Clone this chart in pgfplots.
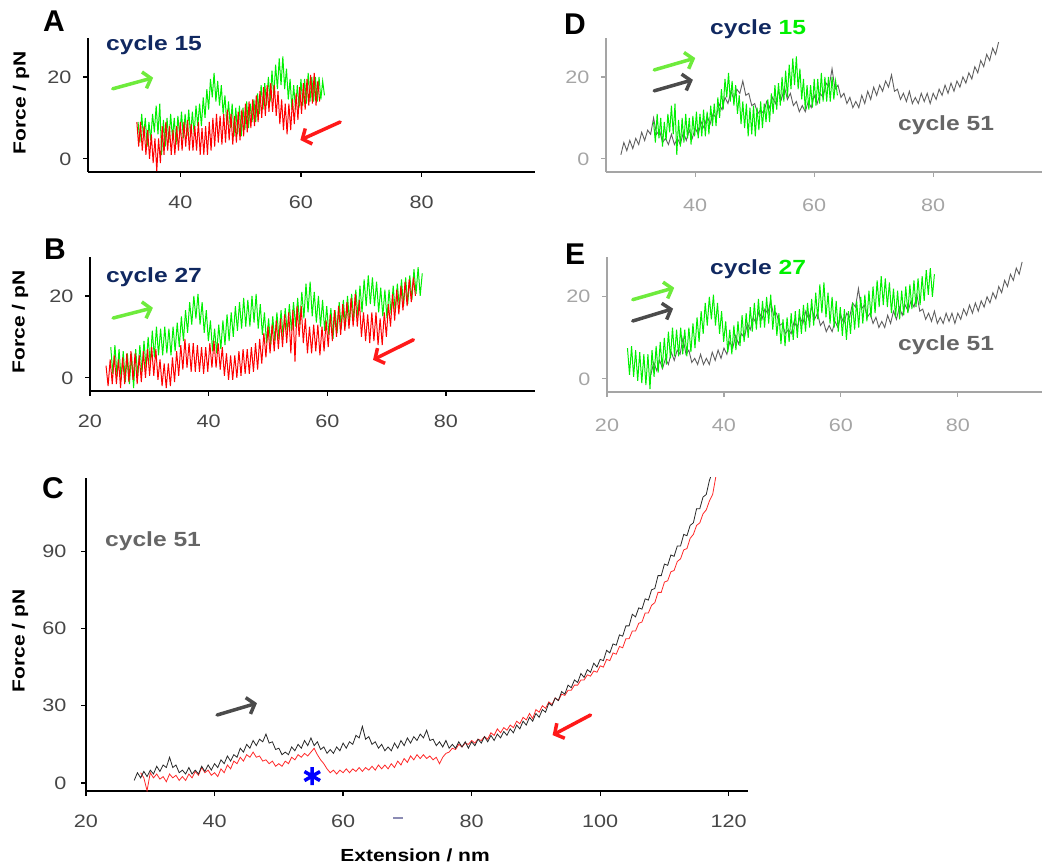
\documentclass[border=0pt]{standalone}
\usepackage{fontspec}
\setmainfont{Liberation Sans}
\newfontfamily\wide[FakeStretch=1.2]{Liberation Sans}
\usepackage{pgfplots}
\pgfplotsset{compat=1.18}
\usepackage{pgfplotstable}
\usetikzlibrary{arrows.meta}

\definecolor{tgreen}{RGB}{0,240,0}
\definecolor{tred}{RGB}{255,0,0}
\definecolor{tgray}{RGB}{95,95,95}
\definecolor{cblack}{RGB}{40,40,40}
\definecolor{cred}{RGB}{255,40,40}
\definecolor{navy}{RGB}{16,40,96}
\definecolor{txtgray}{RGB}{102,102,102}
\definecolor{tickA}{RGB}{70,70,70}
\definecolor{tickD}{RGB}{165,165,165}
\definecolor{agreen}{RGB}{110,235,60}
\definecolor{ared}{RGB}{255,25,25}
\definecolor{agray}{RGB}{75,75,75}
\definecolor{dashc}{RGB}{140,140,180}

% cycle 15 forward
\pgfplotstableread[row sep=\\]{x y\\
33.0 9\\ 33.3 4\\ 33.6 11\\ 33.9 5\\ 34.2 10\\ 34.5 3\\ 34.8 9\\ 35.1 4.5\\ 35.4 11\\ 35.7 6.5\\
36.0 13\\ 36.3 6\\ 36.6 13.5\\ 36.9 1\\ 37.2 9.5\\ 37.5 3\\ 37.8 10\\ 38.1 4\\ 38.4 11\\ 38.7 5\\
39.0 10\\ 39.3 3.5\\ 39.6 10.5\\ 39.9 5.5\\ 40.2 11.5\\ 40.5 5\\ 40.8 11\\ 41.1 5.5\\ 41.4 12\\ 41.7 5.5\\
42.0 11.5\\ 42.3 6\\ 42.6 13\\ 42.9 8\\ 43.2 13.5\\ 43.5 8\\ 43.8 15\\ 44.1 10\\ 44.4 17\\ 44.7 12\\
45.0 19.5\\ 45.3 15\\ 45.6 21\\ 45.9 14\\ 46.2 19\\ 46.5 13\\ 46.8 18\\ 47.1 11\\ 47.4 15.5\\ 47.7 8.5\\
48.0 14\\ 48.3 7.5\\ 48.6 13.5\\ 48.9 5.5\\ 49.2 12.5\\ 49.5 6\\ 49.8 13\\ 50.1 5.5\\ 50.4 12.5\\ 50.7 7\\
51.0 14\\ 51.3 7.5\\ 51.6 13.5\\ 51.9 9\\ 52.2 14.5\\ 52.5 9\\ 52.8 16\\ 53.1 11\\ 53.4 18\\ 53.7 12\\
54.0 18.5\\ 54.3 13\\ 54.6 20\\ 54.9 14\\ 55.2 21.5\\ 55.5 15\\ 55.8 23\\ 56.1 17\\ 56.4 24.5\\ 56.7 18\\
57.0 25\\ 57.3 17\\ 57.6 22\\ 57.9 14.5\\ 58.2 19.5\\ 58.5 12\\ 58.8 18\\ 59.1 12\\ 59.4 18\\ 59.7 12.5\\
60.0 19.5\\ 60.3 13\\ 60.6 19.5\\ 60.9 13.5\\ 61.2 21\\ 61.5 14\\ 61.8 20\\ 62.1 14\\ 62.4 20\\ 62.7 14\\
63.0 20\\ 63.3 14.5\\ 63.6 19\\ 63.9 15.5\\
}\cAf
% cycle 15 reverse
\pgfplotstableread[row sep=\\]{x y\\
32.8 9\\ 33.1 3\\ 33.4 9\\ 33.7 2\\ 34.0 8\\ 34.3 1\\ 34.6 7\\ 34.9 0\\ 35.2 6\\ 35.5 -1\\
35.8 5\\ 36.1 -3\\ 36.4 5\\ 36.7 -1\\ 37.0 8\\ 37.3 1\\ 37.6 9\\ 37.9 2\\ 38.2 8\\ 38.5 1\\
38.8 7\\ 39.1 1\\ 39.4 8\\ 39.7 2\\ 40.0 9\\ 40.3 2\\ 40.6 9\\ 40.9 3\\ 41.2 9.5\\ 41.5 2\\
41.8 8.5\\ 42.1 2\\ 42.4 8\\ 42.7 2\\ 43.0 9\\ 43.3 1\\ 43.6 7.5\\ 43.9 1\\ 44.2 8\\ 44.5 1\\
44.8 9\\ 45.1 2\\ 45.4 10\\ 45.7 3\\ 46.0 11\\ 46.3 4\\ 46.6 10.5\\ 46.9 3.5\\ 47.2 11\\ 47.5 4\\
47.8 12\\ 48.1 4.5\\ 48.4 11\\ 48.7 3.5\\ 49.0 10.5\\ 49.3 4\\ 49.6 11.5\\ 49.9 4.5\\ 50.2 12\\ 50.5 5.5\\
50.8 13.5\\ 51.1 6.5\\ 51.4 14\\ 51.7 7.5\\ 52.0 14.5\\ 52.3 8\\ 52.6 15.5\\ 52.9 9\\ 53.2 16.5\\ 53.5 10\\
53.8 17.5\\ 54.1 10.5\\ 54.4 18\\ 54.7 11.5\\ 55.0 18.5\\ 55.3 11.5\\ 55.6 18\\ 55.9 10.5\\ 56.2 16.5\\ 56.5 8.5\\
56.8 14.5\\ 57.1 7\\ 57.4 13.5\\ 57.7 6\\ 58.0 13.5\\ 58.3 7\\ 58.6 14.5\\ 58.9 8.5\\ 59.2 16\\ 59.5 9.5\\
59.8 17.5\\ 60.1 11\\ 60.4 18.5\\ 60.7 12\\ 61.0 19.5\\ 61.3 13\\ 61.6 20.5\\ 61.9 13.5\\ 62.2 21\\ 62.5 13\\
62.8 19\\ 63.1 14\\
}\cAr
% cycle 27 forward
\pgfplotstableread[row sep=\\]{x y\\
23.50 7.5\\ 23.85 1\\ 24.20 8\\ 24.55 0.5\\ 24.90 7\\ 25.25 -0.5\\ 25.60 6.5\\ 25.95 -1\\ 26.30 6\\ 26.65 -1.5\\
27.00 6\\ 27.35 -2.5\\ 27.70 7\\ 28.05 0.5\\ 28.40 8\\ 28.75 1.5\\ 29.10 9\\ 29.45 2.5\\ 29.80 10\\ 30.15 3.5\\
30.50 11.5\\ 30.85 5\\ 31.20 12.5\\ 31.55 5.5\\ 31.90 12\\ 32.25 5.5\\ 32.60 12.5\\ 32.95 6\\ 33.30 12\\ 33.65 5.5\\
34.00 12.5\\ 34.35 6.5\\ 34.70 13.5\\ 35.05 7.5\\ 35.40 15\\ 35.75 9\\ 36.10 16.5\\ 36.45 11\\ 36.80 18.5\\ 37.15 13\\
37.50 20\\ 37.85 14.5\\ 38.20 20.5\\ 38.55 13\\ 38.90 18.5\\ 39.25 11\\ 39.60 16.5\\ 39.95 9\\ 40.30 14\\ 40.65 6.5\\
41.00 12\\ 41.35 6\\ 41.70 13\\ 42.05 7\\ 42.40 14\\ 42.75 8\\ 43.10 15.5\\ 43.45 9\\ 43.80 16\\ 44.15 10\\
44.50 17.5\\ 44.85 11.5\\ 45.20 18.5\\ 45.55 12\\ 45.90 19.5\\ 46.25 12.5\\ 46.60 19\\ 46.95 12.5\\ 47.30 20\\ 47.65 13.5\\
48.00 20.5\\ 48.35 12\\ 48.70 18\\ 49.05 10.5\\ 49.40 16\\ 49.75 8.5\\ 50.10 14.5\\ 50.45 8\\ 50.80 15\\ 51.15 9\\
51.50 16\\ 51.85 9.5\\ 52.20 16.5\\ 52.55 10\\ 52.90 17\\ 53.25 11\\ 53.60 18\\ 53.95 11.5\\ 54.30 18.5\\ 54.65 12.5\\
55.00 19.5\\ 55.35 13\\ 55.70 21\\ 56.05 14.5\\ 56.40 23\\ 56.75 16\\ 57.10 23.5\\ 57.45 15\\ 57.80 21\\ 58.15 13.5\\
58.50 20\\ 58.85 12.5\\ 59.20 19\\ 59.55 11.5\\ 59.90 17.5\\ 60.25 10.5\\ 60.60 17\\ 60.95 9.5\\ 61.30 16.5\\ 61.65 11\\
62.00 18.5\\ 62.35 12\\ 62.70 19\\ 63.05 12.5\\ 63.40 20\\ 63.75 13.5\\ 64.10 20.5\\ 64.45 14\\ 64.80 21.5\\ 65.15 15\\
65.50 22.5\\ 65.85 16\\ 66.20 24\\ 66.55 17.5\\ 66.90 25\\ 67.25 18\\ 67.60 24.5\\ 67.95 17.5\\ 68.30 23.5\\ 68.65 16\\
69.00 22\\ 69.35 15\\ 69.70 21.5\\ 70.05 14.5\\ 70.40 21.5\\ 70.75 15.5\\ 71.10 22.5\\ 71.45 16\\ 71.80 23\\ 72.15 17\\
72.50 24\\ 72.85 17.5\\ 73.20 24.5\\ 73.55 18\\ 73.90 25\\ 74.25 19\\ 74.60 26.5\\ 74.95 20.5\\ 75.30 27\\ 75.65 20\\
76.00 25.5\\
}\cBf
% cycle 27 reverse
\pgfplotstableread[row sep=\\]{x y\\
22.70 3\\ 23.05 -2\\ 23.40 4.5\\ 23.75 -1.5\\ 24.10 5.5\\ 24.45 -1.5\\ 24.80 4.5\\ 25.15 -2.5\\ 25.50 5\\ 25.85 -1.5\\
26.20 6\\ 26.55 -1\\ 26.90 6.5\\ 27.25 -0.5\\ 27.60 6\\ 27.95 -1.5\\ 28.30 5.5\\ 28.65 -1\\ 29.00 6.5\\ 29.35 0\\
29.70 7\\ 30.05 0.5\\ 30.40 7.5\\ 30.75 0.5\\ 31.10 7\\ 31.45 -0.5\\ 31.80 4.5\\ 32.15 -2\\ 32.50 3.5\\ 32.85 -2.5\\
33.20 3.5\\ 33.55 -2\\ 33.90 5\\ 34.25 -1\\ 34.60 6.5\\ 34.95 0.5\\ 35.30 8\\ 35.65 2\\ 36.00 9.5\\ 36.35 2.5\\
36.70 8.5\\ 37.05 1.5\\ 37.40 8.5\\ 37.75 1.5\\ 38.10 8\\ 38.45 1.5\\ 38.80 7.5\\ 39.15 1\\ 39.50 7.5\\ 39.85 1.5\\
40.20 8.5\\ 40.55 2.5\\ 40.90 9\\ 41.25 2.5\\ 41.60 8.5\\ 41.95 2\\ 42.30 7.5\\ 42.65 0.5\\ 43.00 6\\ 43.35 -0.5\\
43.70 5.5\\ 44.05 -0.5\\ 44.40 5.5\\ 44.75 0\\ 45.10 6.5\\ 45.45 0.5\\ 45.80 7\\ 46.15 1\\ 46.50 7\\ 46.85 1\\
47.20 7.5\\ 47.55 1.5\\ 47.90 8.5\\ 48.25 2\\ 48.60 9.5\\ 48.95 3.5\\ 49.30 11\\ 49.65 5\\ 50.00 12.5\\ 50.35 6\\
50.70 13\\ 51.05 6.5\\ 51.40 14\\ 51.75 7\\ 52.10 14.5\\ 52.45 7.5\\ 52.80 15.5\\ 53.15 8.5\\ 53.50 16\\ 53.85 6\\
54.20 16.5\\ 54.55 4\\ 54.90 17.5\\ 55.25 10\\ 55.60 17.5\\ 55.95 8.5\\ 56.30 14.5\\ 56.65 6\\ 57.00 12.5\\ 57.35 6\\
57.70 13\\ 58.05 6.5\\ 58.40 13\\ 58.75 5.5\\ 59.10 12.5\\ 59.45 6.5\\ 59.80 14\\ 60.15 7.5\\ 60.50 15.5\\ 60.85 9\\
61.20 16.5\\ 61.55 10\\ 61.90 17.5\\ 62.25 10.5\\ 62.60 18\\ 62.95 11.5\\ 63.30 18.5\\ 63.65 12\\ 64.00 19.5\\ 64.35 12.5\\
64.70 20.5\\ 65.05 12.5\\ 65.40 19\\ 65.75 10\\ 66.10 16\\ 66.45 9\\ 66.80 15.5\\ 67.15 8.5\\ 67.50 16\\ 67.85 9\\
68.20 16\\ 68.55 8\\ 68.90 14.5\\ 69.25 8\\ 69.60 16\\ 69.95 10\\ 70.30 18\\ 70.65 12.5\\ 71.00 20.5\\ 71.35 14\\
71.70 21.5\\ 72.05 15.5\\ 72.40 22.5\\ 72.75 16.5\\ 73.10 23.5\\ 73.45 17.5\\ 73.80 24\\ 74.15 18.5\\ 74.50 24.5\\ 74.85 20\\
}\cBr
% cycle 51 forward
\pgfplotstableread[row sep=\\]{x y\\
27.5 1\\ 28.0 4\\ 28.5 2\\ 29.0 4.5\\ 29.5 2.5\\ 30.0 5\\ 30.5 3.5\\ 31.0 6.5\\ 31.5 4.5\\ 32.0 7\\
32.5 6\\ 33.0 10\\ 33.5 6\\ 34.0 7\\ 34.5 4\\ 35.0 5\\ 35.5 3.5\\ 36.0 6\\ 36.5 3.5\\ 37.0 5\\
37.5 3.5\\ 38.0 6.5\\ 38.5 4.5\\ 39.0 7\\ 39.5 5\\ 40.0 7.5\\ 40.5 6\\ 41.0 9\\ 41.5 7.5\\ 42.0 10.5\\
42.5 8.5\\ 43.0 11\\ 43.5 10\\ 44.0 13.5\\ 44.5 12\\ 45.0 15\\ 45.5 13.5\\ 46.0 16.5\\ 46.5 14.5\\ 47.0 17\\
47.5 16\\ 48.0 19\\ 48.5 15.5\\ 49.0 16\\ 49.5 13\\ 50.0 13.5\\ 50.5 11\\ 51.0 12\\ 51.5 11\\ 52.0 14\\
52.5 12.5\\ 53.0 15\\ 53.5 13.5\\ 54.0 16.5\\ 54.5 14.5\\ 55.0 17.5\\ 55.5 14.5\\ 56.0 16\\ 56.5 13\\ 57.0 14\\
57.5 11.5\\ 58.0 13\\ 58.5 11.5\\ 59.0 14\\ 59.5 12.5\\ 60.0 15.5\\ 60.5 13.5\\ 61.0 16\\ 61.5 15\\ 62.0 18.5\\
62.5 17.5\\ 63.0 22\\ 63.5 17\\ 64.0 18\\ 64.5 15\\ 65.0 16\\ 65.5 13.5\\ 66.0 15\\ 66.5 12.5\\ 67.0 14\\
67.5 12.5\\ 68.0 15.5\\ 68.5 13.5\\ 69.0 16.5\\ 69.5 14.5\\ 70.0 17.5\\ 70.5 15.5\\ 71.0 18\\ 71.5 16.5\\ 72.0 19\\
72.5 17.5\\ 73.0 20.5\\ 73.5 16.5\\ 74.0 17\\ 74.5 14.5\\ 75.0 16\\ 75.5 14\\ 76.0 16.5\\ 76.5 13.5\\ 77.0 15\\
77.5 13.5\\ 78.0 16\\ 78.5 14\\ 79.0 16\\ 79.5 13.5\\ 80.0 16\\ 80.5 14.5\\ 81.0 17\\ 81.5 15.5\\ 82.0 18\\
82.5 16\\ 83.0 18.5\\ 83.5 16.5\\ 84.0 19\\ 84.5 17.5\\ 85.0 20\\ 85.5 18.5\\ 86.0 21\\ 86.5 19.5\\ 87.0 22.5\\
87.5 21\\ 88.0 24\\ 88.5 22.5\\ 89.0 25.5\\ 89.5 24\\ 90.0 27\\ 90.5 25.5\\ 91.0 28.5\\ 91.5 27.5\\ 92.0 31\\
92.5 30\\ 93.0 33\\ 93.5 32\\ 94.0 35.5\\ 94.5 34.5\\ 95.0 38\\ 95.5 37\\ 96.0 40\\ 96.5 39\\ 97.0 42.5\\
97.5 41\\ 98.0 44\\ 98.5 43\\ 99.0 46.5\\ 99.5 45\\ 100.0 48\\ 100.5 47.5\\ 101.0 51.5\\ 101.5 50.5\\ 102.0 54\\
102.5 53.5\\ 103.0 57.5\\ 103.5 57\\ 104.0 61\\ 104.5 61\\ 105.0 65.5\\ 105.5 64.5\\ 106.0 68\\ 106.5 67.5\\ 107.0 71.5\\
107.5 71\\ 108.0 75\\ 108.5 75.5\\ 109.0 80.5\\ 109.5 80.5\\ 110.0 85\\ 110.5 84.5\\ 111.0 88.5\\ 111.5 88\\ 112.0 92\\
112.5 92\\ 113.0 96.5\\ 113.5 96\\ 114.0 100\\ 114.5 101\\ 115.0 106.5\\ 115.5 106.5\\ 116.0 111\\ 116.5 112\\ 117.0 117.5\\
117.5 121\\
}\cCf
% cycle 51 reverse
\pgfplotstableread[row sep=\\]{x y\\
28.5 4\\ 29.0 2\\ 29.5 -3\\ 30.0 4\\ 30.5 2\\ 31.0 3.5\\ 31.5 1.5\\ 32.0 2.5\\ 32.5 0.5\\ 33.0 3.5\\
33.5 2\\ 34.0 3\\ 34.5 1\\ 35.0 2.5\\ 35.5 1\\ 36.0 3.5\\ 36.5 2\\ 37.0 4.5\\ 37.5 3\\ 38.0 6\\
38.5 4\\ 39.0 5\\ 39.5 3\\ 40.0 4\\ 40.5 2.5\\ 41.0 5.5\\ 41.5 4\\ 42.0 7\\ 42.5 5.5\\ 43.0 8.5\\
43.5 7.5\\ 44.0 10\\ 44.5 8.5\\ 45.0 11\\ 45.5 10\\ 46.0 12\\ 46.5 10\\ 47.0 10.5\\ 47.5 8.5\\ 48.0 9\\
48.5 7.5\\ 49.0 8.5\\ 49.5 6.5\\ 50.0 7.5\\ 50.5 6.5\\ 51.0 8.5\\ 51.5 7.5\\ 52.0 10\\ 52.5 9\\ 53.0 11\\
53.5 10\\ 54.0 11.5\\ 54.5 10.5\\ 55.0 12\\ 55.5 13.5\\ 56.0 11\\ 56.5 9\\ 57.0 7.5\\ 57.5 5.5\\ 58.0 4\\
58.5 5\\ 59.0 3.5\\ 59.5 5\\ 60.0 4\\ 60.5 5.5\\ 61.0 4\\ 61.5 5.5\\ 62.0 4.5\\ 62.5 6\\ 63.0 4.5\\
63.5 6\\ 64.0 5\\ 64.5 6.5\\ 65.0 5\\ 65.5 7\\ 66.0 5.5\\ 66.5 7\\ 67.0 5.5\\ 67.5 7.5\\ 68.0 6\\
68.5 8.5\\ 69.0 7\\ 69.5 9.5\\ 70.0 8\\ 70.5 10.5\\ 71.0 9\\ 71.5 11\\ 72.0 9.5\\ 72.5 11\\ 73.0 9.5\\
73.5 10.5\\ 74.0 9\\ 74.5 10\\ 75.0 7.5\\ 75.5 10\\ 76.0 11.5\\ 76.5 12\\ 77.0 13.5\\ 77.5 13\\ 78.0 15\\
78.5 14\\ 79.0 15.5\\ 79.5 15\\ 80.0 16.5\\ 80.5 15.5\\ 81.0 17\\ 81.5 16.5\\ 82.0 18\\ 82.5 17\\ 83.0 19.5\\
83.5 18.5\\ 84.0 21\\ 84.5 19.5\\ 85.0 21.5\\ 85.5 20.5\\ 86.0 22.5\\ 86.5 21.5\\ 87.0 24\\ 87.5 23\\ 88.0 25.5\\
88.5 24.5\\ 89.0 27\\ 89.5 25\\ 90.0 28.5\\ 90.5 27.5\\ 91.0 30\\ 91.5 29\\ 92.0 31.5\\ 92.5 30.5\\ 93.0 33\\
93.5 32\\ 94.0 34.5\\ 94.5 34\\ 95.0 36\\ 95.5 36\\ 96.0 38\\ 96.5 38\\ 97.0 40\\ 97.5 40\\ 98.0 42\\
98.5 41.5\\ 99.0 43.5\\ 99.5 43\\ 100.0 45.5\\ 100.5 45\\ 101.0 48\\ 101.5 47.5\\ 102.0 50.5\\ 102.5 50\\ 103.0 53\\
103.5 52.5\\ 104.0 56\\ 104.5 56\\ 105.0 59\\ 105.5 59\\ 106.0 62\\ 106.5 62.5\\ 107.0 66\\ 107.5 66\\ 108.0 69\\
108.5 70\\ 109.0 74\\ 109.5 74\\ 110.0 78\\ 110.5 78.5\\ 111.0 82\\ 111.5 82.5\\ 112.0 86\\ 112.5 87\\ 113.0 90.5\\
113.5 91\\ 114.0 95\\ 114.5 96.5\\ 115.0 100\\ 115.5 101\\ 116.0 104.5\\ 116.5 106\\ 117.0 109.5\\ 117.5 112\\ 118.0 119\\
}\cCr

\pgfplotsset{
  panel/.style={scale only axis, axis lines=left, axis line style={-, line width=1.2pt},
    tick align=outside, major tick length=5pt, tick style={line width=1.2pt},
    tick label style={font=\wide\fontsize{18}{18}\selectfont},
    xticklabel style={yshift=-15pt}, yticklabel style={xshift=-8pt},
    /pgf/number format/assume math mode=true, clip=true},
  panelABC/.style={panel, axis line style={black}, tick style={black}, tick label style={text=tickA}},
  panelDE/.style={panel, axis line style={tickD}, tick style={tickD}, tick label style={text=tickD}},
}
\tikzset{ann/.style={line width=3.5pt, line cap=round, -{Straight Barb[length=7pt,width=17pt]}}}

\begin{document}
\begin{tikzpicture}
\useasboundingbox (0,0) rectangle (1051pt,867pt);
% ---- A
\begin{axis}[panelABC, at={(88pt,695pt)}, anchor=south west, width=447pt, height=134pt,
  xmin=24.7, xmax=98.8, ymin=-3.2, ymax=29.5, xtick={40,60,80}, ytick={0,20}]
\addplot[tgreen, line width=1pt] table {\cAf};
\addplot[tred, line width=1pt] table {\cAr};
\draw[ann, agreen] (axis cs:28.8,17.1) -- (axis cs:35.5,19.8);
\draw[ann, ared] (axis cs:66.5,9) -- (axis cs:59.9,4.6);
\end{axis}
% ---- B
\begin{axis}[panelABC, at={(90pt,476pt)}, anchor=south west, width=445pt, height=134pt,
  xmin=20, xmax=95, ymin=-3.2, ymax=29.5, xtick={20,40,60,80}, ytick={0,20}]
\addplot[tgreen, line width=1pt] table {\cBf};
\addplot[tred, line width=1pt] table {\cBr};
\draw[ann, agreen] (axis cs:23.9,14.6) -- (axis cs:30.6,17.1);
\draw[ann, ared] (axis cs:74.5,9.3) -- (axis cs:67.7,4.4);
\end{axis}
% ---- D
\begin{axis}[panelDE, at={(606pt,695pt)}, anchor=south west, width=436pt, height=134pt,
  xmin=25, xmax=98.3, ymin=-3.2, ymax=29.5, xtick={40,60,80}, ytick={0,20},
  xticklabel style={yshift=-3pt}]
\addplot[tgray, line width=0.9pt, restrict x to domain=27:91.2] table {\cCf};
\addplot[tgreen, line width=1pt] table {\cAf};
\draw[ann, agreen] (axis cs:33.1,21.7) -- (axis cs:40,24.6);
\draw[ann, agray] (axis cs:33.1,16.6) -- (axis cs:39.6,19.3);
\end{axis}
% ---- E
\begin{axis}[panelDE, at={(607pt,475pt)}, anchor=south west, width=435pt, height=135pt,
  xmin=20, xmax=94.4, ymin=-3.2, ymax=29.7, xtick={20,40,60,80}, ytick={0,20},
  xticklabel style={yshift=-3pt}]
\addplot[tgray, line width=0.9pt, restrict x to domain=27:91.2] table {\cCf};
\addplot[tgreen, line width=1pt] table {\cBf};
\draw[ann, agreen] (axis cs:24.4,19.3) -- (axis cs:31.5,22.2);
\draw[ann, agray] (axis cs:24.4,14.1) -- (axis cs:31.3,17.1);
\end{axis}
% ---- C
\begin{axis}[panelABC, at={(86pt,76pt)}, anchor=south west, width=662pt, height=313pt,
  xmin=20, xmax=123, ymin=-3.1, ymax=118.4, xtick={20,40,60,80,100,120}, ytick={0,30,60,90},
  yticklabel style={xshift=-3pt}]
\addplot[cred, line width=0.8pt] table {\cCr};
\addplot[cblack, line width=0.8pt] table {\cCf};
\addplot[blue, only marks, mark=asterisk, mark size=9pt, mark options={line width=3.5pt}] coordinates {(55.2,2.7)};
\draw[ann, agray] (axis cs:40.4,26.4) -- (axis cs:46.6,31);
\draw[ann, ared] (axis cs:98.5,26.4) -- (axis cs:92.6,18.6);
\end{axis}
% ---- texts
\begin{scope}[every node/.style={inner sep=0pt}]
\node[font=\fontsize{30}{30}\selectfont\bfseries] at (54pt,846pt) {A};
\node[font=\fontsize{30}{30}\selectfont\bfseries] at (55pt,618pt) {B};
\node[font=\fontsize{30}{30}\selectfont\bfseries] at (53pt,379pt) {C};
\node[font=\fontsize{30}{30}\selectfont\bfseries] at (575pt,843pt) {D};
\node[font=\fontsize{30}{30}\selectfont\bfseries] at (575pt,613pt) {E};
\node[anchor=base west, font=\wide\fontsize{20.5}{20}\selectfont\bfseries, text=navy] at (106pt,816pt) {cycle 15};
\node[anchor=base west, font=\wide\fontsize{20.5}{20}\selectfont\bfseries, text=navy] at (106pt,584pt) {cycle 27};
\node[anchor=base west, font=\wide\fontsize{20.5}{20}\selectfont\bfseries, text=navy] at (710pt,832pt) {cycle \textcolor{tgreen}{15}};
\node[anchor=base west, font=\wide\fontsize{20.5}{20}\selectfont\bfseries, text=navy] at (710pt,592pt) {cycle \textcolor{tgreen}{27}};
\node[anchor=base west, font=\wide\fontsize{20.5}{20}\selectfont\bfseries, text=txtgray] at (898pt,736pt) {cycle 51};
\node[anchor=base west, font=\wide\fontsize{20.5}{20}\selectfont\bfseries, text=txtgray] at (898pt,516pt) {cycle 51};
\node[anchor=base west, font=\wide\fontsize{20.5}{20}\selectfont\bfseries, text=txtgray] at (105pt,320pt) {cycle 51};
\node[rotate=90, font=\wide\fontsize{17.5}{17}\selectfont\bfseries] at (21pt,764pt) {Force / pN};
\node[rotate=90, font=\wide\fontsize{17.5}{17}\selectfont\bfseries] at (20pt,545pt) {Force / pN};
\node[rotate=90, font=\wide\fontsize{17.5}{17}\selectfont\bfseries] at (20pt,226pt) {Force / pN};
\node[font=\wide\fontsize{17.5}{17}\selectfont\bfseries] at (415pt,12pt) {Extension / nm};
\end{scope}
\draw[dashc, line width=1.5pt] (393pt,49pt) -- (403pt,49pt);
\end{tikzpicture}
\end{document}
